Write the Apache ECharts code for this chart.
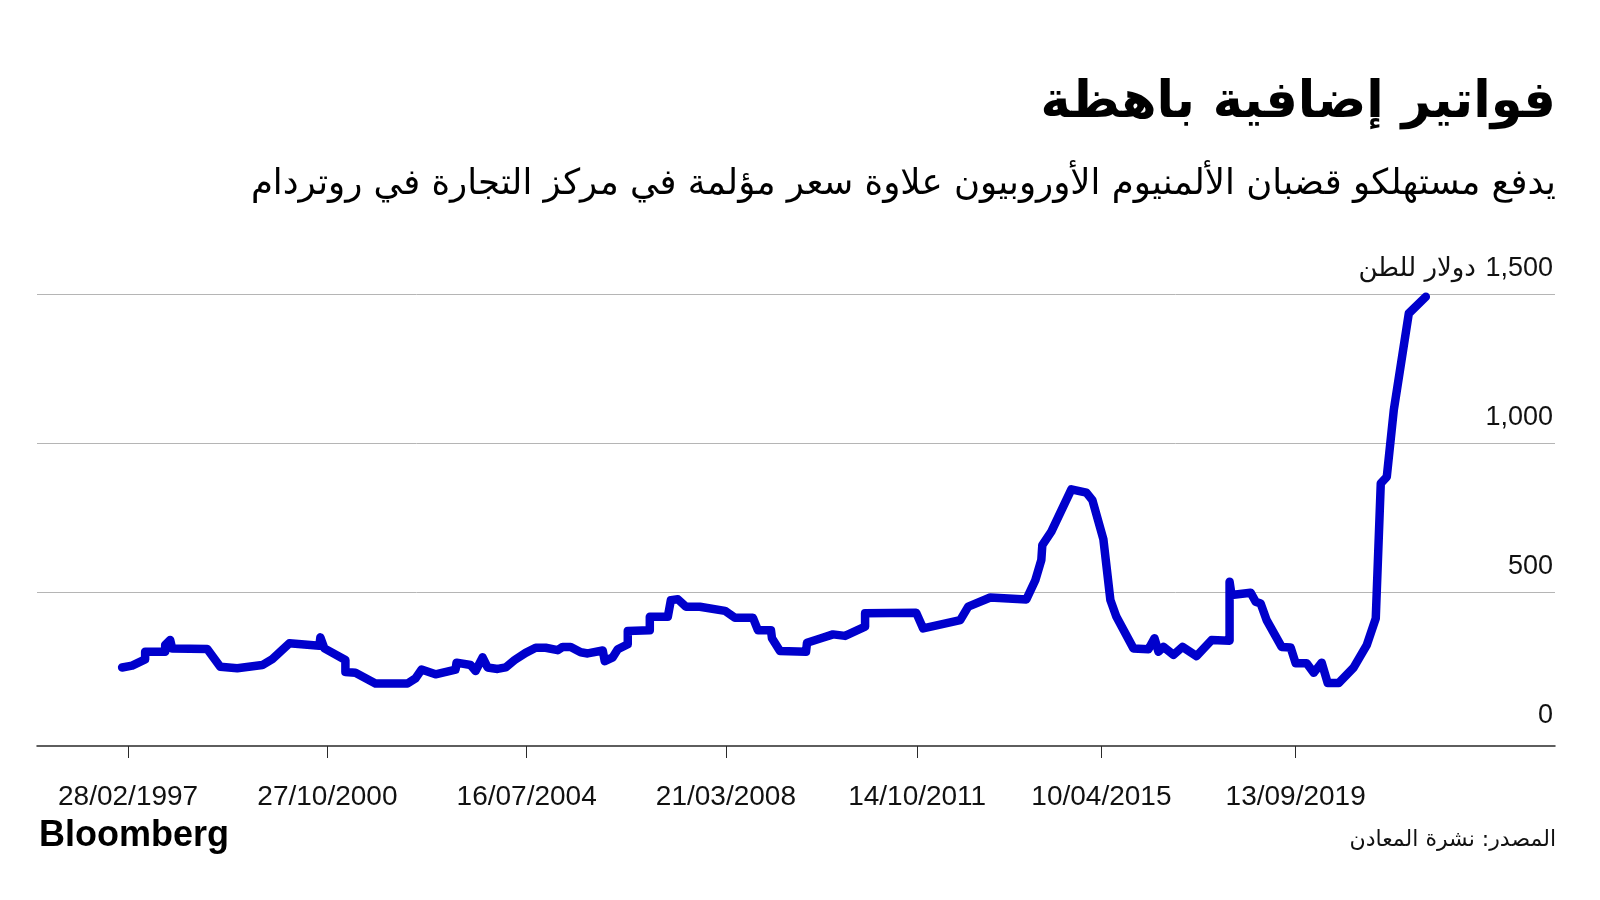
<!DOCTYPE html>
<html>
<head>
<meta charset="utf-8">
<script src="https://cdn.jsdelivr.net/npm/echarts@6/dist/echarts.min.js"></script>
<style>
  html, body { margin: 0; padding: 0; background: #fff; }
  #chart { width: 1600px; height: 900px; }
</style>
</head>
<body>
<div id="chart"></div>
<script>
// ---- Data ----
// x = observation number in the weekly series (ticks every few years)
const tickIndex = [0, 199, 398, 597, 788, 972, 1166];
const tickLabels = ['28/02/1997', '27/10/2000', '16/07/2004', '21/03/2008', '14/10/2011', '10/04/2015', '13/09/2019'];
const yTicks = [0, 500, 1000, 1500];

const obsIndex = [
  -6, 4, 17, 17, 37, 37, 42, 44, 79, 92, 109, 134, 144, 161, 191, 192, 196, 217, 217, 227,
  247, 279, 287, 293, 307, 327, 328, 342, 347, 354, 359, 369, 377, 386, 397, 407, 417, 429, 434, 442,
  452, 459, 474, 476, 484, 489, 499, 499, 521, 521, 539, 542, 549, 557, 571, 596, 606, 624, 629, 642,
  643, 651, 677, 678, 692, 704, 716, 736, 736, 787, 794, 831, 839, 861, 897, 906, 912, 913, 922, 942,
  957, 963, 974, 981, 987, 1004, 1019, 1025, 1029, 1034, 1044, 1053, 1067, 1082, 1100, 1100, 1102, 1121, 1126, 1131,
  1137, 1152, 1161, 1166, 1177, 1184, 1192, 1198, 1209, 1224, 1237, 1246, 1251, 1257, 1264, 1279, 1296
];
const premium = [
  247, 253, 274, 300, 300, 322, 339, 311, 309, 249, 244, 255, 275, 328, 320, 348, 311, 272, 232, 229,
  193, 193, 210, 240, 224, 240, 263, 255, 235, 281, 247, 242, 247, 272, 296, 313, 313, 305, 316, 316,
  298, 294, 304, 268, 281, 308, 325, 369, 372, 417, 417, 473, 476, 451, 451, 437, 414, 414, 372, 372,
  345, 302, 300, 330, 345, 358, 353, 384, 429, 431, 378, 406, 451, 482, 475, 540, 608, 658, 703, 845,
  834, 809, 677, 473, 417, 311, 308, 345, 300, 316, 289, 316, 285, 339, 337, 535, 490, 498, 468, 462,
  406, 316, 314, 261, 261, 229, 263, 195, 195, 247, 322, 412, 865, 887, 1111, 1436, 1492
];

const titleText = 'فواتير إضافية باهظة';
const subtitleText = 'يدفع مستهلكو قضبان الألمنيوم الأوروبيون علاوة سعر مؤلمة في مركز التجارة في روتردام';
const unitText = 'دولار للطن';
const sourceText = 'المصدر: نشرة المعادن';
const brandText = 'Bloomberg';

const latin = "'Liberation Sans', 'DejaVu Sans', sans-serif";
const arabic = "'DejaVu Sans', sans-serif";

const chart = echarts.init(document.getElementById('chart'));
const fmt = v => v.toLocaleString('en-US');

chart.setOption({
  animation: false,
  backgroundColor: '#ffffff',
  grid: { left: 37, right: 45, top: 294.3, bottom: 159, outerBoundsMode: 'none', containLabel: false },
  xAxis: {
    type: 'value',
    min: -91,
    max: 1425,
    offset: 5,
    axisLine: { show: true, onZero: false, lineStyle: { color: '#2a2a2a', width: 1.5 } },
    axisTick: { show: true, customValues: tickIndex, length: 12, lineStyle: { color: '#2a2a2a', width: 1 } },
    axisLabel: {
      customValues: tickIndex,
      formatter: v => { const i = tickIndex.indexOf(v); return i >= 0 ? tickLabels[i] : ''; },
      margin: 37,
      fontSize: 28,
      color: '#111',
      fontFamily: latin
    },
    splitLine: { show: false }
  },
  yAxis: {
    type: 'value',
    position: 'right',
    min: 0,
    max: 1500,
    interval: 500,
    axisLine: { show: false },
    axisTick: { show: false },
    splitLine: { show: true, showMinLine: false, lineStyle: { color: '#b5b5b5', width: 1 } },
    axisLabel: {
      inside: true,
      margin: 2,
      verticalAlign: 'bottom',
      padding: [0, 0, 12, 0],
      fontSize: 27,
      color: '#111',
      fontFamily: latin,
      formatter: v => v === yTicks[yTicks.length - 1] ? '{u|' + unitText + '} {n|' + fmt(v) + '}' : fmt(v),
      rich: {
        u: { fontSize: 26, fontFamily: arabic, color: '#111', padding: [0, 2, 0, 0] },
        n: { fontSize: 27, fontFamily: latin, color: '#111' }
      }
    }
  },
  series: [{
    type: 'line',
    data: obsIndex.map((x, i) => [x, premium[i]]),
    showSymbol: false,
    symbol: 'none',
    lineStyle: { color: '#0000cc', width: 8.5, cap: 'round', join: 'round' },
    silent: true
  }],
  graphic: [
    { type: 'text', x: 1556, y: 104, style: { text: titleText, fontSize: 51, fontWeight: 'bold', fontFamily: arabic, fill: '#000', align: 'right', verticalAlign: 'middle' } },
    { type: 'text', x: 1556, y: 185, style: { text: subtitleText, fontSize: 35.5, fontFamily: arabic, fill: '#000', align: 'right', verticalAlign: 'middle' } },
    { type: 'text', x: 39, y: 836, style: { text: brandText, fontSize: 36, fontWeight: 'bold', fontFamily: latin, fill: '#000', align: 'left', verticalAlign: 'middle' } },
    { type: 'text', x: 1556, y: 840, style: { text: sourceText, fontSize: 22, fontFamily: arabic, fill: '#111', align: 'right', verticalAlign: 'middle' } }
  ]
});
</script>
</body>
</html>
